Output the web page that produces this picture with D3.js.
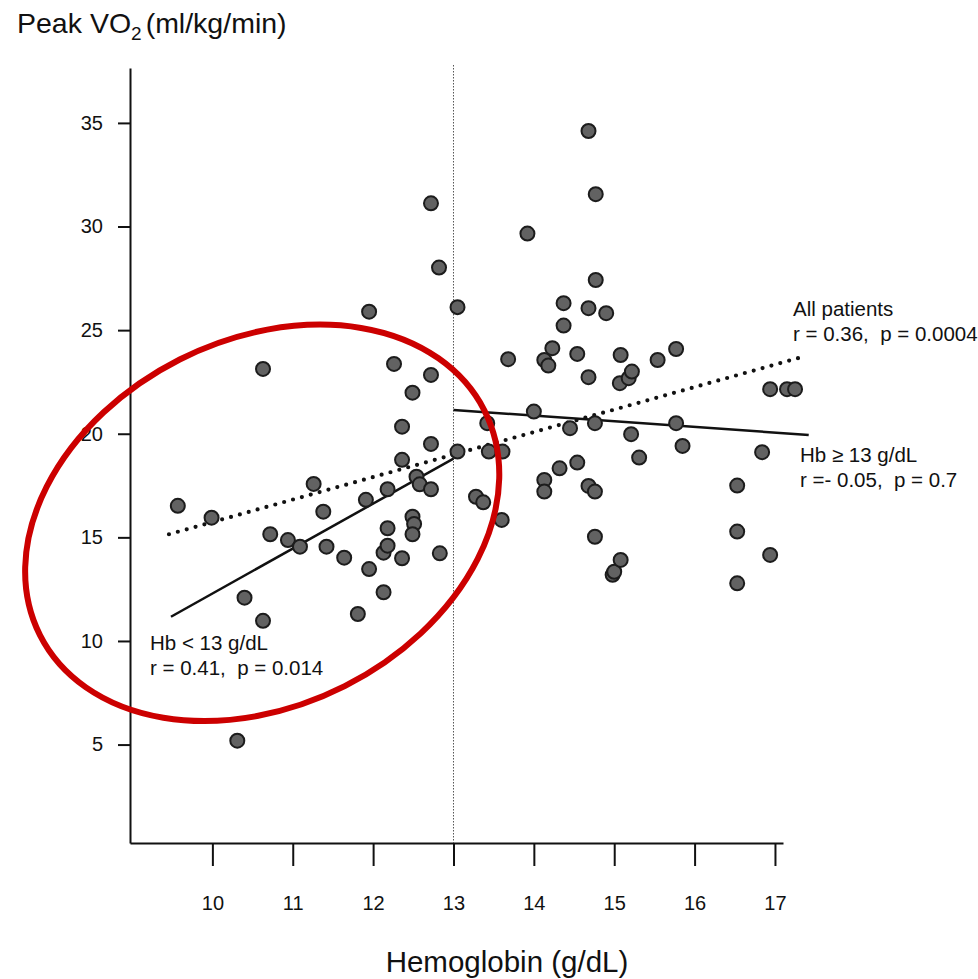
<!DOCTYPE html>
<meta charset="utf-8">
<style>
	body { margin: 0; background: #fff; }
	svg { display: block; font-family: "Liberation Sans", Arial, sans-serif; }
</style>
<script src="https://d3js.org/d3.v7.min.js"></script>
<body>
<div id="chart"></div>
<script>
	// patients with Hb < 13 g/dL
	var hbLow = [9.57, 9.99, 10.63, 10.72, 10.94, 11.09, 11.26, 11.38, 11.42, 11.64, 10.40, 10.63, 10.31,
		11.81, 11.91, 11.95, 11.95, 12.13, 12.13, 12.18, 12.18, 12.18, 12.26, 12.36, 12.36, 12.36,
		12.49, 12.49, 12.51, 12.49, 12.54, 12.58, 12.72, 12.72, 12.72, 12.72, 12.82, 12.83];
	var vo2Low = [16.52, 15.95, 23.13, 15.15, 14.87, 14.55, 17.58, 16.24, 14.55, 14.02, 12.09, 10.97, 5.19,
		11.30, 16.81, 13.47, 25.89, 14.26, 12.35, 14.60, 15.44, 17.32, 23.37, 20.34, 18.74, 13.99,
		21.98, 16.00, 15.65, 15.15, 17.93, 17.56, 22.84, 19.51, 17.32, 31.12, 28.02, 14.23];

	// patients with Hb >= 13 g/dL
	var hbHigh = [13.05, 13.05, 13.28, 13.37, 13.42, 13.44, 13.61, 13.60, 13.68, 13.92, 14.00, 14.13, 14.13,
		14.13, 14.18, 14.23, 14.32, 14.37, 14.37, 14.45, 14.54, 14.54, 14.68, 14.68, 14.68, 14.68,
		14.76, 14.76, 14.76, 14.77, 14.77, 14.90, 14.98, 15.00, 15.08, 15.08, 15.07, 15.18, 15.22,
		15.21, 15.31, 15.54, 15.77, 15.77, 15.85, 16.53, 16.53, 16.53, 16.84, 16.94, 16.94, 17.15, 17.25];
	var vo2High = [19.14, 26.11, 16.96, 16.69, 20.51, 19.14, 19.14, 15.84, 23.60, 29.66, 21.07, 17.77, 17.21,
		23.56, 23.29, 24.13, 18.33, 26.30, 25.22, 20.27, 23.85, 18.61, 34.61, 26.06, 22.73, 17.48,
		17.21, 20.51, 15.03, 31.56, 27.42, 25.82, 13.19, 13.34, 13.91, 23.80, 22.44, 22.68, 23.00,
		19.98, 18.85, 23.56, 24.09, 20.51, 19.41, 17.50, 15.28, 12.78, 19.11, 14.15, 22.15, 22.15, 22.15];

	// regression lines [hb, vo2] end points
	var fitLow = [[9.485, 11.17], [13.0, 18.8]];
	var fitHigh = [[13.0, 21.15], [17.42, 19.94]];
	var fitAll = [[9.46, 15.15], [17.38, 23.75]];

	var xTicks = [10, 11, 12, 13, 14, 15, 16, 17];
	var yTicks = [5, 10, 15, 20, 25, 30, 35];
	var hbCut = 13;

	var width = 978, height = 979;

	var svg = d3.select("#chart").append("svg")
		.attr("width", width)
		.attr("height", height);

	var x = d3.scaleLinear().domain([8.975, 17.1]).range([130, 783]);
	var y = d3.scaleLinear().domain([0.25, 37.65]).range([843, 68]);

	// axes
	svg.append("g")
		.attr("transform", "translate(0," + y.range()[0] + ")")
		.call(d3.axisBottom(x).tickValues(xTicks).tickSize(23).tickSizeOuter(0).tickPadding(30));
	svg.append("g")
		.attr("transform", "translate(" + x.range()[0] + ",0)")
		.call(d3.axisLeft(y).tickValues(yTicks).tickSize(12).tickSizeOuter(0).tickPadding(15));

	svg.selectAll(".domain").attr("stroke", "#111").attr("stroke-width", 2);
	svg.selectAll(".tick line").attr("stroke", "#111").attr("stroke-width", 2);
	svg.selectAll(".tick text")
		.attr("fill", "#111")
		.style("font-family", "Liberation Sans, Arial, sans-serif")
		.style("font-size", "20px");

	// Hb = 13 cut-off
	svg.append("line")
		.attr("x1", x(hbCut)).attr("x2", x(hbCut))
		.attr("y1", 65).attr("y2", y.range()[0])
		.attr("stroke", "#555")
		.attr("stroke-width", 1)
		.attr("stroke-dasharray", "1.5,1.5");

	var line = d3.line().x(function(d) { return x(d[0]); }).y(function(d) { return y(d[1]); });

	svg.append("path").datum(fitLow)
		.attr("d", line).attr("fill", "none")
		.attr("stroke", "#111").attr("stroke-width", 2.5);
	svg.append("path").datum(fitHigh)
		.attr("d", line).attr("fill", "none")
		.attr("stroke", "#111").attr("stroke-width", 2.5);
	svg.append("path").datum(fitAll)
		.attr("d", line).attr("fill", "none")
		.attr("stroke", "#111").attr("stroke-width", 4.2)
		.attr("stroke-linecap", "round")
		.attr("stroke-dasharray", "0,9.2");

	// points
	var pts = hbLow.map(function(h, i) { return [h, vo2Low[i]]; })
		.concat(hbHigh.map(function(h, i) { return [h, vo2High[i]]; }));

	svg.append("g").selectAll("circle")
		.data(pts)
		.enter().append("circle")
		.attr("cx", function(d) { return x(d[0]); })
		.attr("cy", function(d) { return y(d[1]); })
		.attr("r", 7)
		.attr("fill", "#626262")
		.attr("stroke", "#1c1c1c")
		.attr("stroke-width", 2);

	// red highlight round the low Hb group
	var cx = x(10.62), cy = y(15.7);
	svg.append("ellipse")
		.attr("cx", 0).attr("cy", 0)
		.attr("rx", 249).attr("ry", 183)
		.attr("transform", "translate(" + cx + "," + cy + ") rotate(-26.8)")
		.attr("fill", "none")
		.attr("stroke", "#cc0000")
		.attr("stroke-width", 6);

	// labels
	var title = svg.append("text")
		.attr("x", 17).attr("y", 33)
		.attr("fill", "#111")
		.style("font-size", "28.5px");
	title.append("tspan").text("Peak VO");
	title.append("tspan").attr("dy", 7).style("font-size", "19px").text("2");
	title.append("tspan").attr("dy", -7).attr("dx", 4).text("(ml/kg/min)");

	svg.append("text")
		.attr("x", 507).attr("y", 972)
		.attr("text-anchor", "middle")
		.attr("fill", "#111")
		.style("font-size", "29.5px")
		.text("Hemoglobin (g/dL)");

	function note(px, py, lines) {
		var t = svg.append("text").attr("fill", "#111").style("font-size", "20.5px");
		lines.forEach(function(s, i) {
			t.append("tspan").attr("x", px).attr("y", py + i * 25).attr("xml:space", "preserve").text(s);
		});
	}
	note(793, 316, ["All patients", "r = 0.36,  p = 0.0004"]);
	note(800, 462, ["Hb \u2265 13 g/dL", "r =- 0.05,  p = 0.7"]);
	note(150, 650, ["Hb < 13 g/dL", "r = 0.41,  p = 0.014"]);
</script>
</body>
